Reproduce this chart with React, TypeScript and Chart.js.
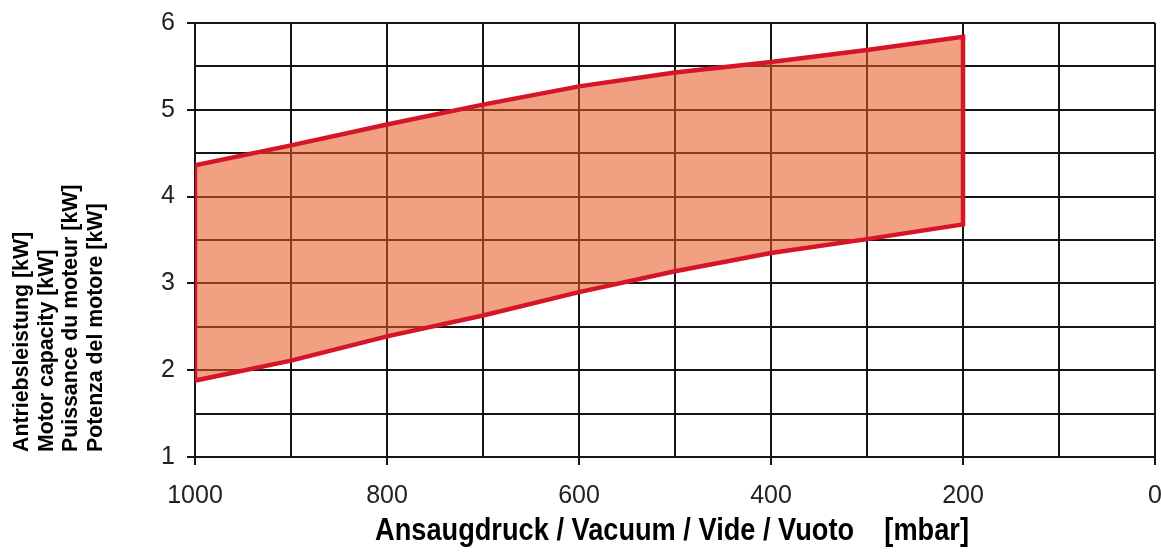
import React, { useEffect, useRef } from 'react';
import { Chart, registerables } from 'chart.js';

Chart.register(...registerables);

// Pressure (mbar) and motor power band (kW)
const pressureMbar = [1000, 900, 800, 700, 600, 500, 400, 300, 200];
const upperKW = [4.36, 4.59, 4.83, 5.06, 5.27, 5.43, 5.55, 5.69, 5.84];
const lowerKW = [1.88, 2.11, 2.39, 2.63, 2.9, 3.14, 3.35, 3.51, 3.68];

const xTickLabels = [1000, 800, 600, 400, 200, 0];
const yTickLabels = [1, 2, 3, 4, 5, 6];

const yTitleLines = [
  'Antriebsleistung [kW]',
  'Motor capacity [kW]',
  'Puissance du moteur [kW]',
  'Potenza del motore [kW]',
];
const xTitle = 'Ansaugdruck / Vacuum / Vide / Vuoto    [mbar]';

const FONT = "'Liberation Sans', Arial, Helvetica, sans-serif";
const GRID = '#151515';

const titlesPlugin = {
  id: 'axisTitles',
  afterDraw(chart: any) {
    const { ctx, chartArea } = chart;
    ctx.save();
    ctx.fillStyle = '#000';
    // x-axis title (condensed bold)
    ctx.font = `bold 32px ${FONT}`;
    ctx.textAlign = 'center';
    ctx.textBaseline = 'middle';
    ctx.translate((chartArea.left + chartArea.right) / 2 - 3, 531);
    ctx.scale(0.85, 1);
    ctx.fillText(xTitle, 0, 0);
    ctx.restore();

    // y-axis title (rotated, lines start at bottom)
    ctx.save();
    ctx.fillStyle = '#000';
    ctx.font = `bold 21.3px ${FONT}`;
    ctx.textAlign = 'left';
    ctx.textBaseline = 'middle';
    yTitleLines.forEach((line, i) => {
      ctx.save();
      ctx.translate(22 + i * 24.7, 452);
      ctx.rotate(-Math.PI / 2);
      ctx.fillText(line, 0, 0);
      ctx.restore();
    });
    ctx.restore();
  },
};

export default function App() {
  const ref = useRef<HTMLCanvasElement>(null);

  useEffect(() => {
    const outline = [
      ...pressureMbar.map((p, i) => ({ x: p, y: upperKW[i] })),
      ...pressureMbar.map((p, i) => ({ x: p, y: lowerKW[i] })).reverse(),
      { x: pressureMbar[0], y: upperKW[0] },
    ];

    const chart = new Chart(ref.current as HTMLCanvasElement, {
      type: 'line',
      data: {
        datasets: [
          {
            data: outline,
            borderColor: 'rgb(214,22,40)',
            borderWidth: 4.5,
            backgroundColor: 'rgba(230,90,34,0.57)',
            fill: 'shape',
            pointRadius: 0,
            tension: 0,
            borderJoinStyle: 'miter',
          } as any,
        ],
      },
      plugins: [titlesPlugin],
      options: {
        responsive: false,
        animation: false,
        events: [],
        layout: { padding: { top: 23, right: 6, left: 0, bottom: 0 } },
        plugins: { legend: { display: false }, tooltip: { enabled: false } },
        scales: {
          x: {
            type: 'linear',
            reverse: true,
            min: 0,
            max: 1000,
            ticks: {
              stepSize: 100,
              autoSkip: false,
              maxRotation: 0,
              minRotation: 0,
              padding: 16,
              color: '#222',
              font: { family: FONT, size: 25 },
              callback: (v: any) => (xTickLabels.includes(Number(v)) ? String(v) : ''),
            },
            grid: {
              color: GRID,
              lineWidth: 2,
              tickLength: 8,
              tickWidth: 2,
              tickColor: (ctx: any) =>
                ctx.tick && xTickLabels.includes(ctx.tick.value) ? GRID : 'rgba(0,0,0,0)',
            },
            border: { color: GRID, width: 2 },
            afterFit: (s: any) => {
              s.height = 102;
              s.paddingLeft = 0;
              s.paddingRight = 0;
            },
          },
          y: {
            type: 'linear',
            min: 1,
            max: 6,
            ticks: {
              stepSize: 0.5,
              autoSkip: false,
              padding: 12,
              color: '#222',
              font: { family: FONT, size: 25 },
              callback: (v: any) => (yTickLabels.includes(Number(v)) ? String(v) : ''),
            },
            grid: {
              color: GRID,
              lineWidth: 2,
              tickLength: 8,
              tickWidth: 2,
              tickColor: (ctx: any) =>
                ctx.tick && yTickLabels.includes(ctx.tick.value) ? GRID : 'rgba(0,0,0,0)',
            },
            border: { color: GRID, width: 2 },
            afterFit: (s: any) => {
              s.width = 195;
              s.paddingTop = 0;
              s.paddingBottom = 0;
            },
          },
        },
      } as any,
    });
    return () => chart.destroy();
  }, []);

  return (
    <canvas
      ref={ref}
      width={1161}
      height={559}
      style={{ position: 'fixed', left: 0, top: 0, width: 1161, height: 559 }}
    />
  );
}
